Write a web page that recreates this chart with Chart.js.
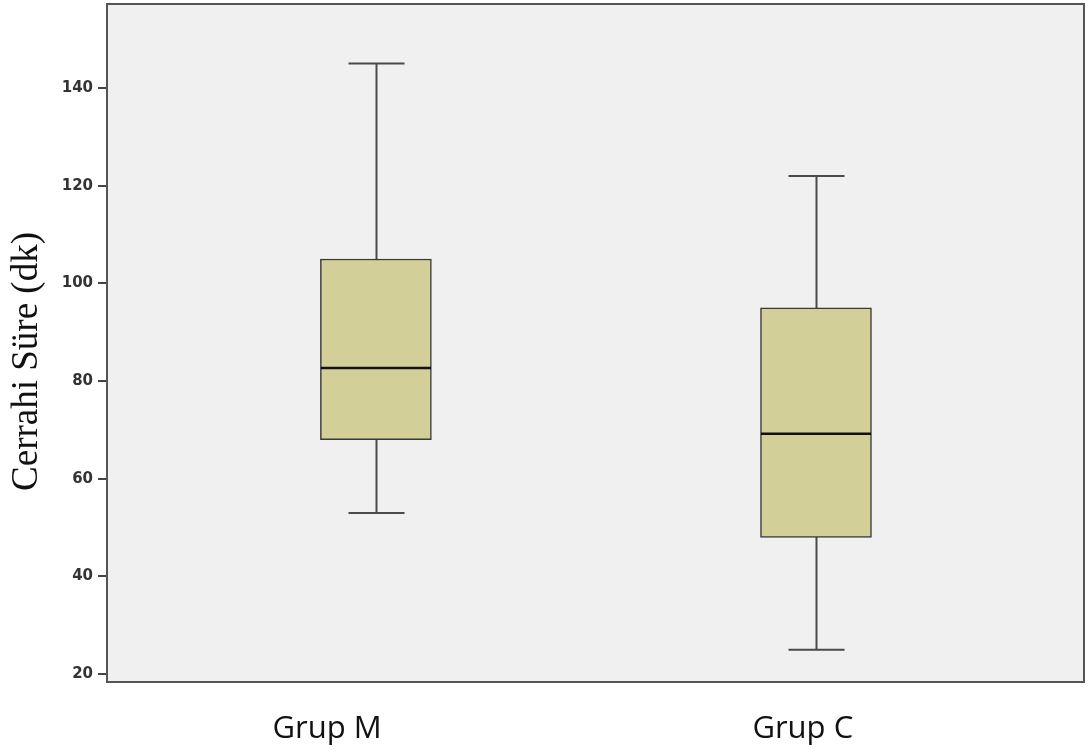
<!DOCTYPE html>
<html>
<head>
<meta charset="utf-8">
<script src="https://cdn.jsdelivr.net/npm/chart.js@4"></script>
<style>
  html, body { margin: 0; padding: 0; background: #fff; }
  #wrap { width: 1089px; height: 751px; }
</style>
</head>
<body>
<div id="wrap"><canvas id="chart" width="1089" height="751"></canvas></div>
<script>
// Data
const groups = ["Grup M", "Grup C"];
const whiskerLow = [53, 25];
const q1 = [68, 48];
const median = [82.7, 69.2];
const q3 = [105, 95];
const whiskerHigh = [145, 122];
const yTicks = [20, 40, 60, 80, 100, 120, 140];

const positions = groups.map((g, i) => i + 1);
// category labels sit a little left of the boxes in the original
const labelPos = [0.889, 1.97];

// plot background, whiskers, medians, frame
const boxPlugin = {
    id: 'boxPlugin',
    beforeDraw(chart){
        const {ctx, chartArea: a} = chart;
        ctx.save();
        ctx.fillStyle = '#f0f0f0';
        ctx.fillRect(a.left, a.top, a.right - a.left, a.bottom - a.top);
        ctx.restore();
    },
    beforeDatasetsDraw(chart){
        const {ctx, scales:{x, y}} = chart;
        ctx.save();
        ctx.strokeStyle = '#4a4a4a';
        ctx.lineWidth = 2;
        positions.forEach((p, i) => {
            const cx = Math.round(x.getPixelForValue(p)) + 0.5;
            const half = 28;
            ctx.beginPath();
            ctx.moveTo(cx, y.getPixelForValue(whiskerHigh[i]));
            ctx.lineTo(cx, y.getPixelForValue(whiskerLow[i]));
            ctx.moveTo(cx - half, y.getPixelForValue(whiskerHigh[i]));
            ctx.lineTo(cx + half, y.getPixelForValue(whiskerHigh[i]));
            ctx.moveTo(cx - half, y.getPixelForValue(whiskerLow[i]));
            ctx.lineTo(cx + half, y.getPixelForValue(whiskerLow[i]));
            ctx.stroke();
        });
        ctx.restore();
    },
    afterDatasetsDraw(chart){
        const {ctx, chartArea: a, scales:{x, y}} = chart;
        ctx.save();
        ctx.strokeStyle = '#111';
        ctx.lineWidth = 2.5;
        positions.forEach((p, i) => {
            const cx = x.getPixelForValue(p);
            const my = y.getPixelForValue(median[i]);
            ctx.beginPath();
            ctx.moveTo(cx - 55, my);
            ctx.lineTo(cx + 55, my);
            ctx.stroke();
        });
        // frame
        ctx.strokeStyle = '#555';
        ctx.lineWidth = 2;
        ctx.strokeRect(a.left, a.top, a.right - a.left, a.bottom - a.top);
        ctx.restore();
    }
};

const chart = new Chart(document.getElementById('chart'), {
    type: 'bar',
    data: {
        datasets: [{
            data: positions.map((p, i) => ({x: p, y: [q1[i], q3[i]]})),
            backgroundColor: '#d3cf98',
            borderColor: '#3a3a3a',
            borderWidth: 1.5,
            borderSkipped: false,
            barThickness: 111
        }]
    },
    options: {
        responsive: false,
        animation: false,
        layout: { padding: { top: 4, right: 5, left: 0, bottom: 0 } },
        plugins: { legend: { display: false }, tooltip: { enabled: false } },
        scales: {
            x: {
                type: 'linear',
                offset: false,
                min: 0.389,
                max: 2.609,
                afterBuildTicks: s => { s.ticks = labelPos.map(v => ({value: v})); },
                afterFit: s => { s.height = 69; s.paddingLeft = 0; s.paddingRight = 0; },
                grid: { display: false, offset: false },
                border: { display: false },
                ticks: {
                    callback: (v, i) => groups[i],
                    color: '#111',
                    font: { family: 'Open Sans', size: 31 },
                    padding: 21,
                    maxRotation: 0
                }
            },
            y: {
                min: 18.4,
                max: 157.2,
                afterBuildTicks: s => { s.ticks = yTicks.map(v => ({value: v})); },
                afterFit: s => { s.width = 107; s.paddingTop = 0; s.paddingBottom = 0; },
                grid: { drawOnChartArea: false, drawTicks: true, tickLength: 9, color: '#444', lineWidth: 2 },
                border: { display: true, color: '#555', width: 2 },
                ticks: {
                    color: '#333',
                    font: { family: 'DejaVu Sans', size: 15, weight: 'bold' },
                    padding: 5
                },
                title: {
                    display: true,
                    text: 'Cerrahi Süre (dk)\u00a0\u00a0\u00a0\u00a0',
                    color: '#111',
                    font: { family: 'Liberation Serif', size: 37 },
                    padding: { top: 5, bottom: 0 }
                }
            }
        }
    },
    plugins: [boxPlugin]
});
</script>
</body>
</html>
